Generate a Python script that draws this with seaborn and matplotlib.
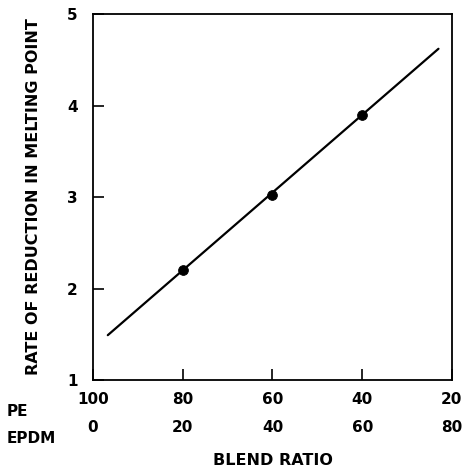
import matplotlib
matplotlib.use("Agg")
import matplotlib.pyplot as plt
import matplotlib.transforms as mtransforms
import seaborn as sns
import pandas as pd

# Blend composition ticks
pe_pct = [100, 80, 60, 40, 20]
epdm_pct = [0, 20, 40, 60, 80]

# Measured points
epdm_measured = [20, 40, 60]
rate_measured = [2.2, 3.02, 3.9]

# Fitted straight line
epdm_fit = [3.3, 77]
rate_fit = [1.49, 4.62]

y_ticks = [1, 2, 3, 4, 5]

sns.set_style("ticks")
plt.rcParams["font.family"] = ["DejaVu Sans"]
plt.rcParams["font.weight"] = "bold"
plt.rcParams["text.color"] = "black"
plt.rcParams["axes.labelcolor"] = "black"
plt.rcParams["xtick.color"] = "black"
plt.rcParams["ytick.color"] = "black"

fig = plt.figure(figsize=(4.64, 4.75), dpi=100)
ax = fig.add_axes([0.2004, 0.2, 0.7736, 0.7705])

fit = pd.DataFrame({"epdm": epdm_fit, "rate": rate_fit})
pts = pd.DataFrame({"epdm": epdm_measured, "rate": rate_measured})

sns.lineplot(data=fit, x="epdm", y="rate", ax=ax, color="black", linewidth=1.6)
sns.scatterplot(data=pts, x="epdm", y="rate", ax=ax, color="black", s=50,
                edgecolor="black", zorder=3)

fs = 11
ax.set_xlim(0, 80)
ax.set_ylim(1, 5)
ax.set_xticks(epdm_pct)
ax.set_xticklabels([f"{p}\n{e}" for p, e in zip(pe_pct, epdm_pct)],
                   linespacing=2.0, fontsize=fs, fontweight="bold", color="black")
ax.set_yticks(y_ticks)
ax.set_yticklabels([str(v) for v in y_ticks], fontsize=fs, fontweight="bold",
                   color="black")
ax.tick_params(direction="in", length=8, width=1.2, colors="black")
ax.tick_params(axis="x", pad=9)
ax.tick_params(axis="y", pad=11)

for s in ax.spines.values():
    s.set_visible(True)
    s.set_linewidth(1.3)
    s.set_color("black")

ax.set_xlabel("BLEND RATIO", fontsize=11.5, fontweight="bold", labelpad=13,
              color="black")
ax.set_ylabel("RATE OF REDUCTION IN MELTING POINT", fontsize=11.5,
              fontweight="bold", labelpad=19, color="black")

trans = mtransforms.blended_transform_factory(fig.transFigure, ax.transAxes)
ax.text(0.015, -0.065, "PE\nEPDM", transform=trans, ha="left", va="top",
        fontsize=fs, fontweight="bold", linespacing=2.0, color="black")

fig.savefig("out.png", dpi=100)
